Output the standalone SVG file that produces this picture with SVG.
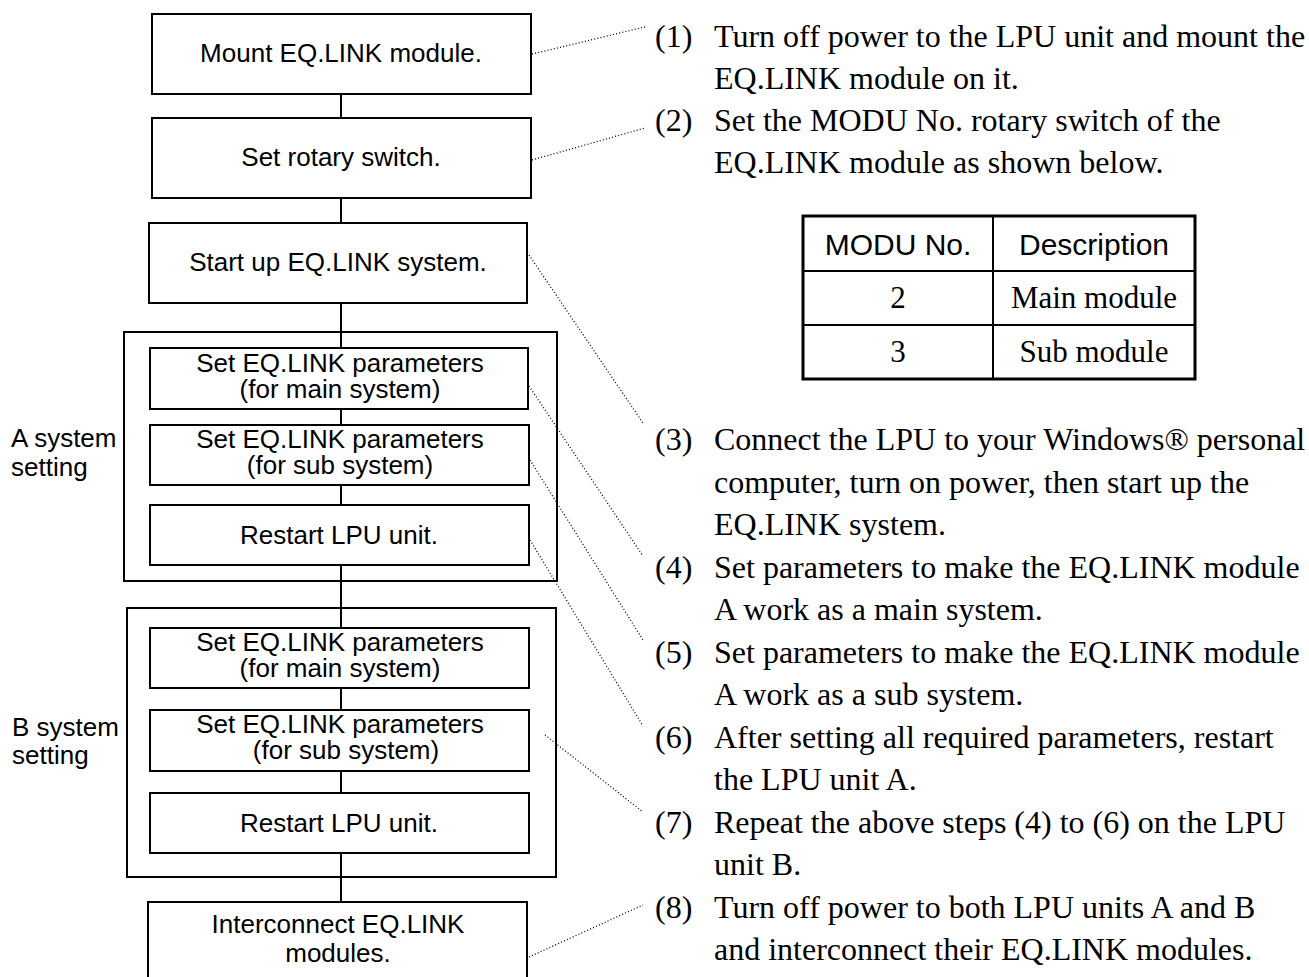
<svg xmlns="http://www.w3.org/2000/svg" width="1309" height="977" viewBox="0 0 1309 977">
  <style>
    .box { fill: #fff; stroke: #000; stroke-width: 2; }
    .grp { fill: none; stroke: #000; stroke-width: 2; }
    .flow { stroke: #000; stroke-width: 2; fill: none; }
    .dot { stroke: #000; stroke-width: 1.3; stroke-dasharray: 1 2.2; fill: none; }
    .lbl { font-family: "Liberation Sans", Arial, sans-serif; font-size: 26px; fill: #000; }
    .c { text-anchor: middle; }
    .note { font-family: "Liberation Serif", "Times New Roman", serif; font-size: 32px; fill: #000; }
    .th { font-family: "Liberation Sans", Arial, sans-serif; font-size: 30px; fill: #000; text-anchor: middle; }
    .td { font-family: "Liberation Serif", "Times New Roman", serif; font-size: 31px; fill: #000; text-anchor: middle; }
  </style>

  <!-- group frames -->
  <g id="group-a">
    <rect class="grp" x="124" y="332" width="433" height="249"/>
    <text class="lbl" x="11" y="447">A system</text>
    <text class="lbl" x="11" y="476">setting</text>
  </g>
  <g id="group-b">
    <rect class="grp" x="127" y="608" width="429" height="269"/>
    <text class="lbl" x="12" y="736">B system</text>
    <text class="lbl" x="12" y="764">setting</text>
  </g>

  <!-- vertical flow line and dotted leaders -->
  <g id="connectors">
    <line class="flow" x1="341" y1="94" x2="341" y2="118"/>
    <line class="flow" x1="341" y1="198" x2="341" y2="223"/>
    <line class="flow" x1="341" y1="303" x2="341" y2="348"/>
    <line class="flow" x1="341" y1="409" x2="341" y2="425"/>
    <line class="flow" x1="341" y1="485" x2="341" y2="505"/>
    <line class="flow" x1="341" y1="565" x2="341" y2="628"/>
    <line class="flow" x1="341" y1="688" x2="341" y2="710"/>
    <line class="flow" x1="341" y1="771" x2="341" y2="793"/>
    <line class="flow" x1="341" y1="853" x2="341" y2="902"/>

    <line class="dot" x1="532" y1="54" x2="645" y2="27"/>
    <line class="dot" x1="532" y1="160" x2="645" y2="128"/>
    <line class="dot" x1="529" y1="255" x2="643" y2="423"/>
    <line class="dot" x1="529" y1="386" x2="643" y2="556"/>
    <line class="dot" x1="530" y1="460" x2="643" y2="640"/>
    <line class="dot" x1="530" y1="540" x2="643" y2="726"/>
    <line class="dot" x1="545" y1="735" x2="643" y2="812"/>
    <line class="dot" x1="529" y1="957" x2="643" y2="905"/>
  </g>

  <!-- process steps -->
  <g id="step-mount">
    <rect class="box" x="152" y="14" width="379" height="80"/>
    <text class="lbl c" x="341" y="62">Mount EQ.LINK module.</text>
  </g>
  <g id="step-rotary">
    <rect class="box" x="152" y="118" width="379" height="80"/>
    <text class="lbl c" x="341" y="166">Set rotary switch.</text>
  </g>
  <g id="step-startup">
    <rect class="box" x="149" y="223" width="378" height="80"/>
    <text class="lbl c" x="338" y="271">Start up EQ.LINK system.</text>
  </g>

  <g id="a-main">
    <rect class="box" x="150" y="348" width="378" height="61"/>
    <text class="lbl c" x="340" y="372">Set EQ.LINK parameters</text>
    <text class="lbl c" x="340" y="398">(for main system)</text>
  </g>
  <g id="a-sub">
    <rect class="box" x="150" y="425" width="379" height="60"/>
    <text class="lbl c" x="340" y="448">Set EQ.LINK parameters</text>
    <text class="lbl c" x="340" y="474">(for sub system)</text>
  </g>
  <g id="a-restart">
    <rect class="box" x="150" y="505" width="379" height="60"/>
    <text class="lbl c" x="339" y="544">Restart LPU unit.</text>
  </g>

  <g id="b-main">
    <rect class="box" x="150" y="628" width="379" height="60"/>
    <text class="lbl c" x="340" y="651">Set EQ.LINK parameters</text>
    <text class="lbl c" x="340" y="677">(for main system)</text>
  </g>
  <g id="b-sub">
    <rect class="box" x="150" y="710" width="379" height="61"/>
    <text class="lbl c" x="340" y="733">Set EQ.LINK parameters</text>
    <text class="lbl c" x="346" y="759">(for sub system)</text>
  </g>
  <g id="b-restart">
    <rect class="box" x="150" y="793" width="379" height="60"/>
    <text class="lbl c" x="339" y="832">Restart LPU unit.</text>
  </g>

  <g id="step-interconnect">
    <path class="box" d="M148,978 V902 H527 V978"/>
    <text class="lbl c" x="338" y="933">Interconnect EQ.LINK</text>
    <text class="lbl c" x="338" y="962">modules.</text>
  </g>

  <!-- step notes -->
  <g id="notes">
    <text class="note" x="655" y="47">(1)</text>
    <text class="note" x="714" y="47">Turn off power to the LPU unit and mount the</text>
    <text class="note" x="714" y="89">EQ.LINK module on it.</text>
    <text class="note" x="655" y="131">(2)</text>
    <text class="note" x="714" y="131">Set the MODU No. rotary switch of the</text>
    <text class="note" x="714" y="173">EQ.LINK module as shown below.</text>

    <text class="note" x="655" y="450">(3)</text>
    <text class="note" x="714" y="450">Connect the LPU to your Windows® personal</text>
    <text class="note" x="714" y="492.5">computer, turn on power, then start up the</text>
    <text class="note" x="714" y="535">EQ.LINK system.</text>
    <text class="note" x="655" y="577.5">(4)</text>
    <text class="note" x="714" y="577.5">Set parameters to make the EQ.LINK module</text>
    <text class="note" x="714" y="620">A work as a main system.</text>
    <text class="note" x="655" y="662.5">(5)</text>
    <text class="note" x="714" y="662.5">Set parameters to make the EQ.LINK module</text>
    <text class="note" x="714" y="705">A work as a sub system.</text>
    <text class="note" x="655" y="747.5">(6)</text>
    <text class="note" x="714" y="747.5">After setting all required parameters, restart</text>
    <text class="note" x="714" y="790">the LPU unit A.</text>
    <text class="note" x="655" y="832.5">(7)</text>
    <text class="note" x="714" y="832.5">Repeat the above steps (4) to (6) on the LPU</text>
    <text class="note" x="714" y="875">unit B.</text>
    <text class="note" x="655" y="917.5">(8)</text>
    <text class="note" x="714" y="917.5">Turn off power to both LPU units A and B</text>
    <text class="note" x="714" y="960">and interconnect their EQ.LINK modules.</text>
  </g>

  <!-- MODU No. table -->
  <g id="modu-table">
    <rect x="803" y="216" width="392" height="163" fill="#fff" stroke="#000" stroke-width="3"/>
    <line x1="993" y1="216" x2="993" y2="379" stroke="#000" stroke-width="2"/>
    <line x1="803" y1="271" x2="1195" y2="271" stroke="#000" stroke-width="2"/>
    <line x1="803" y1="325" x2="1195" y2="325" stroke="#000" stroke-width="2"/>
    <text class="th" x="898" y="255">MODU No.</text>
    <text class="th" x="1094" y="255">Description</text>
    <text class="td" x="898" y="308">2</text>
    <text class="td" x="1094" y="308">Main module</text>
    <text class="td" x="898" y="362">3</text>
    <text class="td" x="1094" y="362">Sub module</text>
  </g>
</svg>
